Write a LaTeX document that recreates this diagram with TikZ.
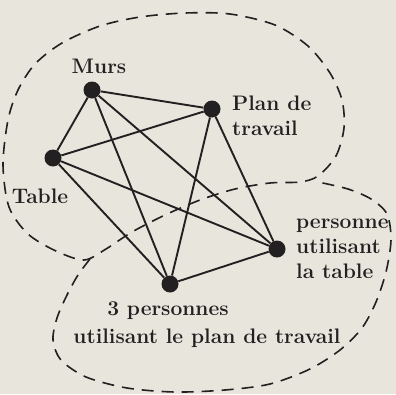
\documentclass[tikz,border=0pt]{standalone}
\definecolor{paper}{RGB}{232,229,221}
\definecolor{ink}{RGB}{34,32,32}
\tikzset{
  dot/.style={circle,fill=ink,inner sep=0pt,minimum size=17pt},
  edge/.style={ink,line width=1.9pt},
  zone/.style={ink,line width=1.6pt,dash pattern=on 12pt off 8pt},
  lbl/.style={text=ink,font=\fontsize{21}{25}\selectfont\bfseries,inner sep=0pt}
}
\begin{document}
\begin{tikzpicture}[x=1pt,y=-1pt]
			\fill[paper] (0,0) rectangle (396,394);
			\useasboundingbox (0,0) rectangle (396,394);
			% dashed zones
			\draw[zone] plot[smooth cycle] coordinates {(318,176) (336,156) (344,128) (342,100) (330,73) (308,46) (275,25) (230,14) (185,13) (140,17) (100,26) (62,43) (35,64) (18,90) (8,120) (3,165) (9,207) (28,234) (56,251) (84,260) (106,249) (132,232) (165,215) (200,200) (235,189) (270,183) (300,182)};
			\draw[zone] plot[smooth] coordinates {(90,259) (78,275) (67,295) (57,318) (53,340) (61,360) (86,377) (127,388) (175,392) (225,390) (270,384) (310,369) (340,350) (362,328) (376,302) (386,272) (391,240) (387,214) (371,199) (348,189) (318,182)};
			% nodes
			\node[dot] (murs) at (92,90) {};
			\node[dot] (plan) at (212,109) {};
			\node[dot] (table) at (53,158) {};
			\node[dot] (pers) at (277,249) {};
			\node[dot] (trois) at (170,284) {};
			\foreach \a/\b in {murs/plan,murs/table,murs/pers,murs/trois,plan/table,plan/pers,plan/trois,table/pers,table/trois,pers/trois}
				\draw[edge] (\a) -- (\b);
			% labels
			\node[lbl] (lmurs) at (99,66) {Murs};
			\node[lbl,anchor=west,align=left] (lplan) at (232,116) {Plan de\\travail};
			\node[lbl] (ltable) at (40,196) {Table};
			\node[lbl,anchor=west,align=left] (lpers) at (296,249) {personne\\utilisant\\la table};
			\node[lbl] (ltrois) at (168,311) {3 personnes};
			\node[lbl] (ltrois2) at (207,338) {utilisant le plan de travail};
\end{tikzpicture}
\end{document}
